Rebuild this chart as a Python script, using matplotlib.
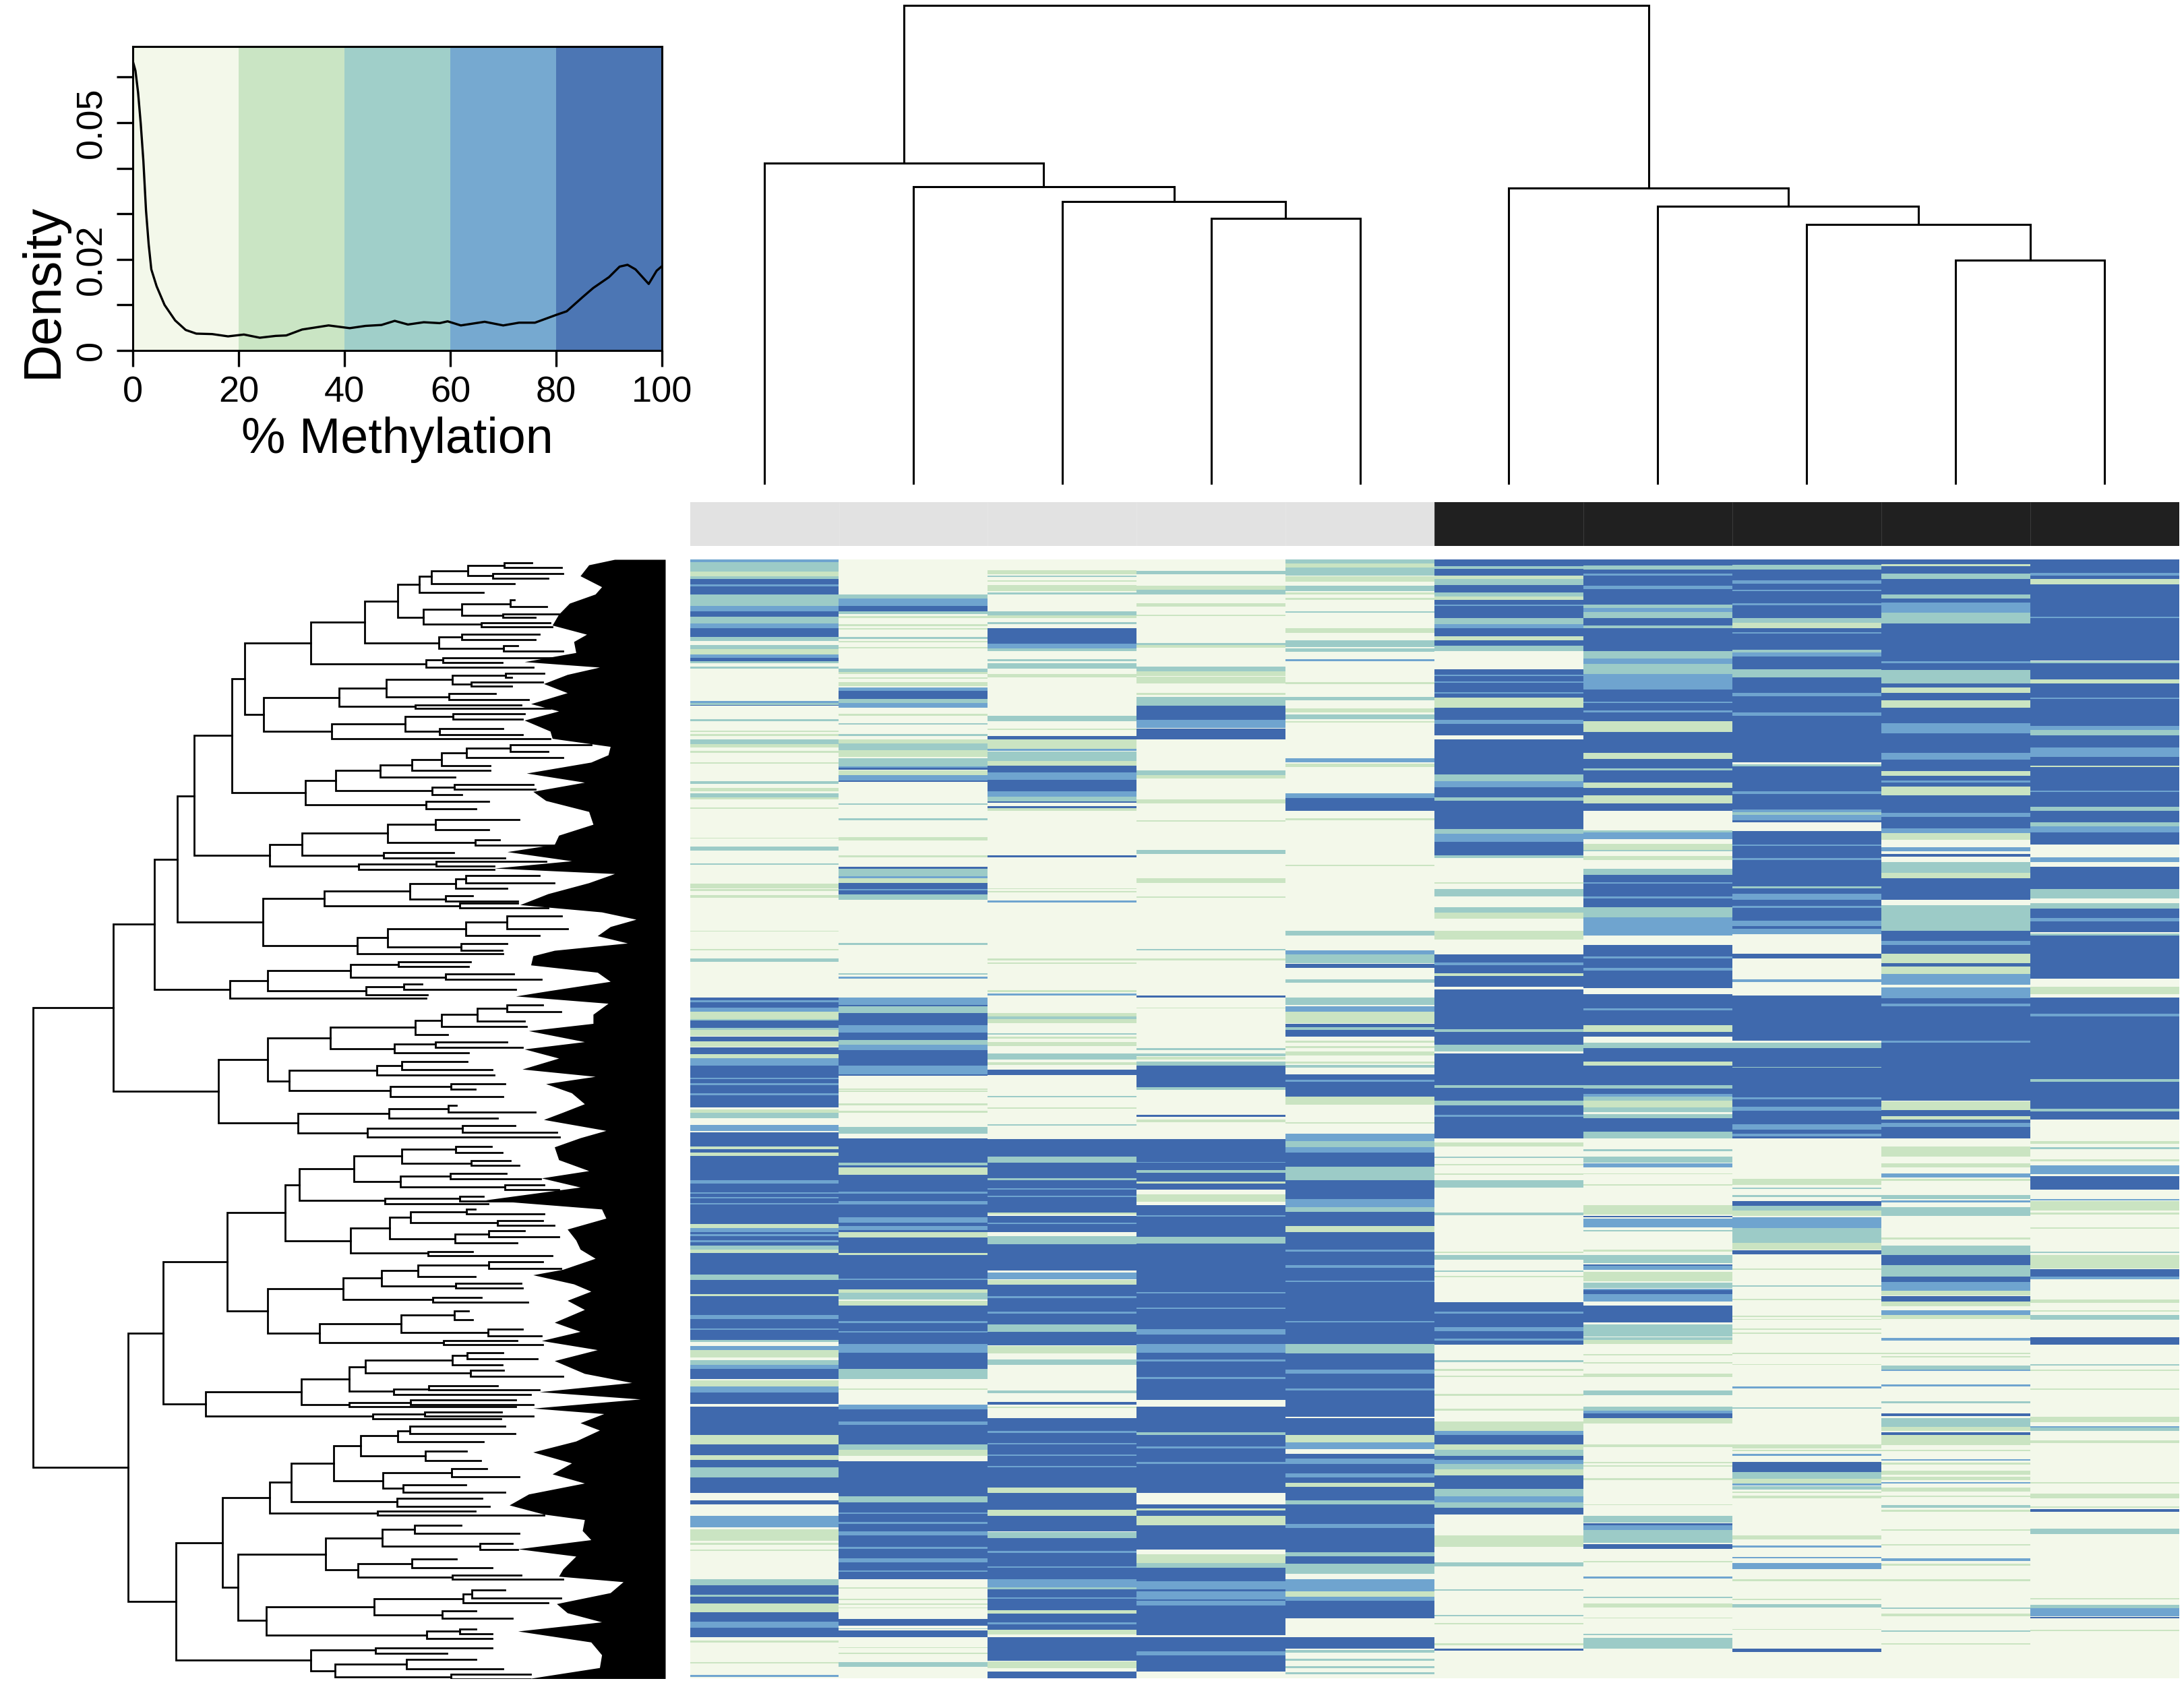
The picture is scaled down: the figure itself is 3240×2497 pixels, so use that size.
"""Methylation heatmap with density key and row / column dendrograms."""
import matplotlib
matplotlib.use("Agg")
import matplotlib.pyplot as plt
from matplotlib.colors import ListedColormap
import numpy as np

plt.rcParams["font.family"] = ["Liberation Sans", "DejaVu Sans"]

WIDTH, HEIGHT = 3241, 2497

# ---------------------------------------------------------------------------
# Density key
# ---------------------------------------------------------------------------
METHYLATION = [0, 0.5, 1, 1.5, 2, 2.5, 3, 3.5, 4.5, 6, 8, 10, 12, 15, 18, 21, 24, 27, 29,
               32, 37, 41, 44, 47, 49.5, 52, 55, 58, 59.5, 62, 66.5, 70, 73, 76, 80, 82,
               85, 87, 90, 92, 93.5, 95, 97.5, 99, 100]
DENSITY = [.0635, .0614, .0566, .0498, .0416, .0307, .0233, .0178, .0141, .0100, .0066,
           .0045, .0037, .0036, .0031, .0035, .0028, .0032, .0033, .0046, .0055, .0049,
           .0054, .0056, .0065, .0057, .0062, .0060, .0064, .0055, .0063, .0055, .0061,
           .0061, .0078, .0086, .0117, .0137, .0161, .0184, .0188, .0178, .0146, .0175, .0185]
BIN_EDGES = [0, 20, 40, 60, 80, 100]
LEVEL_COLORS = ["#F3F8EA", "#CAE4C2", "#9CCBC7", "#6FA4CF", "#3F69AD"]
KEY_COLORS = ["#F3F8EA", "#CAE5C4", "#A0CFC9", "#76A9D0", "#4C76B4"]
X_TICKS = [0, 20, 40, 60, 80, 100]
Y_TICKS = [0, .01, .02, .03, .04, .05, .06]
Y_TICK_LABELS = ["0", "", "0.02", "", "", "0.05", ""]

# ---------------------------------------------------------------------------
# Sample annotation and column dendrogram
# ---------------------------------------------------------------------------
SAMPLE_GROUP = [0, 0, 0, 0, 0, 1, 1, 1, 1, 1]
GROUP_COLORS = ["#E2E2E2", "#202020"]
# (child a, child b, height); ids 0-9 are samples, 10+ the merges in order
COLUMN_LINKS = [(3, 4, 190), (2, 10, 202), (1, 11, 213), (0, 12, 230),
                (8, 9, 160), (7, 14, 186), (6, 15, 199), (5, 16, 212),
                (13, 17, 343)]

# ---------------------------------------------------------------------------
# Heatmap: runs of (first row, last row, level) per sample, over pale level 0
# ---------------------------------------------------------------------------
N_ROWS = 2900
SAMPLE_01 = [
    (0, 8, 3), (8, 33, 2), (33, 46, 1), (46, 53, 2), (53, 66, 4), (66, 71, 3), (71, 93, 4),
    (93, 123, 2), (123, 136, 3), (136, 150, 4), (150, 168, 2), (168, 180, 3), (180, 203, 4),
    (203, 213, 2), (223, 234, 2), (234, 248, 1), (248, 256, 3), (256, 266, 4), (266, 270, 2),
    (280, 284, 2), (368, 374, 3), (374, 378, 2), (378, 381, 4), (416, 420, 2), (446, 449, 1),
    (454, 460, 1), (468, 480, 2), (480, 488, 1), (498, 502, 1), (528, 531, 1), (576, 583, 2),
    (594, 603, 1), (608, 618, 2), (618, 623, 1), (644, 648, 1), (722, 725, 1), (745, 756, 2),
    (789, 793, 2), (842, 853, 1), (856, 860, 1), (871, 878, 1), (963, 966, 1), (1011, 1014, 1),
    (1036, 1044, 2), (1137, 1143, 4), (1143, 1148, 3), (1148, 1163, 4), (1163, 1173, 3),
    (1173, 1193, 1), (1193, 1196, 2), (1196, 1215, 4), (1215, 1220, 2), (1220, 1236, 1),
    (1238, 1250, 4), (1250, 1264, 1), (1266, 1283, 4), (1283, 1293, 1), (1293, 1313, 3),
    (1313, 1422, 4), (1345, 1348, 3), (1358, 1364, 3), (1384, 1389, 3), (1426, 1436, 1),
    (1436, 1449, 2), (1466, 1482, 3), (1486, 1522, 4), (1522, 1529, 1), (1529, 1539, 4),
    (1539, 1547, 1), (1547, 1609, 4), (1609, 1619, 3), (1619, 1724, 4), (1642, 1645, 3),
    (1654, 1657, 3), (1669, 1672, 3), (1724, 1734, 1), (1734, 1744, 3), (1744, 1779, 4),
    (1750, 1755, 3), (1765, 1770, 3), (1779, 1790, 2), (1790, 1799, 1), (1799, 1854, 4),
    (1854, 1869, 2), (1869, 1904, 4), (1904, 1910, 1), (1910, 1959, 4), (1959, 1969, 3),
    (1969, 2024, 4), (1994, 1997, 3), (2024, 2029, 2), (2039, 2049, 3), (2049, 2069, 1),
    (2076, 2089, 2), (2089, 2099, 3), (2099, 2124, 4), (2129, 2144, 1), (2144, 2159, 3),
    (2159, 2189, 4), (2196, 2269, 4), (2269, 2294, 1), (2294, 2322, 4), (2322, 2334, 1),
    (2334, 2354, 4), (2354, 2379, 2), (2379, 2419, 4), (2439, 2449, 4), (2479, 2509, 3),
    (2514, 2544, 1), (2549, 2554, 1), (2566, 2570, 1), (2644, 2659, 2), (2659, 2684, 4),
    (2684, 2689, 2), (2689, 2706, 4), (2706, 2729, 1), (2729, 2754, 4), (2754, 2769, 3),
    (2769, 2794, 4), (2802, 2808, 1), (2858, 2862, 1), (2892, 2896, 3),
]
SAMPLE_02 = [
    (93, 103, 2), (103, 123, 3), (123, 136, 4), (136, 143, 2), (148, 154, 1), (170, 175, 1),
    (180, 184, 1), (203, 207, 2), (213, 217, 1), (228, 232, 1), (285, 294, 2), (294, 298, 1),
    (308, 311, 1), (320, 330, 1), (334, 343, 3), (343, 363, 4), (363, 373, 2), (373, 386, 3),
    (402, 406, 1), (426, 430, 2), (454, 460, 2), (468, 478, 1), (478, 495, 2), (495, 513, 1),
    (516, 538, 2), (538, 541, 3), (541, 546, 4), (548, 560, 1), (560, 575, 3), (575, 578, 4),
    (634, 638, 2), (672, 677, 2), (721, 730, 1), (769, 773, 1), (798, 804, 4), (804, 823, 2),
    (823, 828, 3), (828, 840, 1), (840, 870, 4), (856, 859, 3), (870, 884, 2), (996, 1000, 2),
    (1074, 1078, 2), (1082, 1088, 3), (1137, 1156, 3), (1156, 1160, 4), (1160, 1176, 2),
    (1176, 1208, 4), (1208, 1228, 3), (1228, 1246, 4), (1246, 1258, 2), (1258, 1273, 3),
    (1273, 1313, 4), (1313, 1336, 3), (1336, 1340, 4), (1373, 1376, 1), (1378, 1381, 1),
    (1410, 1416, 1), (1430, 1435, 1), (1472, 1489, 2), (1502, 1564, 4), (1564, 1572, 2),
    (1572, 1576, 4), (1576, 1596, 1), (1596, 1744, 4), (1639, 1644, 3), (1664, 1672, 3),
    (1706, 1719, 3), (1729, 1739, 3), (1744, 1759, 1), (1759, 1799, 4), (1799, 1804, 1),
    (1804, 1892, 4), (1864, 1868, 3), (1892, 1902, 1), (1902, 1919, 2), (1922, 1934, 1),
    (1934, 2034, 4), (1975, 1980, 3), (2000, 2005, 3), (2034, 2056, 3), (2056, 2099, 4),
    (2099, 2124, 2), (2149, 2152, 1), (2192, 2204, 3), (2204, 2234, 4), (2234, 2244, 3),
    (2244, 2294, 4), (2294, 2309, 2), (2309, 2324, 1), (2337, 2429, 4), (2429, 2444, 2),
    (2444, 2644, 4), (2470, 2474, 3), (2495, 2500, 3), (2520, 2530, 3), (2560, 2565, 3),
    (2590, 2600, 3), (2620, 2625, 3), (2664, 2667, 1), (2694, 2697, 1), (2706, 2709, 1),
    (2716, 2719, 1), (2746, 2764, 4), (2770, 2773, 2), (2776, 2794, 4), (2819, 2822, 1),
    (2834, 2837, 1), (2858, 2870, 2),
]
SAMPLE_03 = [
    (30, 40, 1), (44, 48, 2), (56, 60, 1), (68, 83, 1), (87, 92, 2), (136, 146, 2), (146, 153, 1),
    (164, 169, 2), (180, 220, 4), (220, 232, 3), (232, 240, 2), (261, 266, 2), (270, 284, 2),
    (299, 308, 1), (406, 420, 2), (440, 444, 1), (460, 468, 4), (468, 493, 1), (493, 498, 3),
    (500, 523, 2), (523, 536, 1), (536, 553, 4), (553, 573, 3), (573, 603, 4), (603, 616, 3),
    (616, 628, 2), (628, 632, 4), (641, 646, 4), (646, 653, 1), (769, 773, 4), (853, 856, 1),
    (860, 865, 1), (886, 890, 3), (1036, 1040, 1), (1045, 1049, 1), (1118, 1122, 1),
    (1127, 1131, 3), (1176, 1186, 1), (1186, 1193, 2), (1193, 1203, 1), (1229, 1233, 2),
    (1238, 1243, 1), (1251, 1263, 1), (1281, 1298, 2), (1305, 1311, 1), (1324, 1338, 4),
    (1392, 1395, 2), (1422, 1425, 1), (1465, 1469, 2), (1504, 1549, 4), (1549, 1564, 2),
    (1564, 1604, 4), (1604, 1610, 2), (1610, 1694, 4), (1630, 1635, 3), (1650, 1654, 3),
    (1694, 1698, 1), (1702, 1744, 4), (1720, 1724, 3), (1754, 1776, 2), (1776, 1844, 4),
    (1849, 1866, 3), (1869, 1881, 1), (1881, 1984, 4), (1910, 1915, 3), (1950, 1955, 3),
    (1984, 2002, 2), (2002, 2037, 4), (2039, 2059, 1), (2074, 2089, 2), (2154, 2162, 2),
    (2184, 2192, 4), (2196, 2200, 1), (2226, 2406, 4), (2260, 2264, 3), (2290, 2294, 3),
    (2320, 2324, 3), (2350, 2354, 3), (2406, 2419, 1), (2419, 2464, 4), (2464, 2479, 1),
    (2479, 2519, 4), (2522, 2536, 2), (2536, 2644, 4), (2570, 2575, 3), (2610, 2614, 3),
    (2644, 2664, 3), (2664, 2669, 2), (2669, 2724, 4), (2690, 2694, 3), (2724, 2732, 1),
    (2732, 2774, 4), (2755, 2760, 3), (2774, 2786, 1), (2794, 2854, 4), (2856, 2874, 1),
    (2882, 2900, 4),
]
SAMPLE_04 = [
    (32, 40, 2), (70, 80, 1), (80, 93, 2), (116, 124, 1), (145, 149, 1), (218, 224, 2),
    (224, 230, 1), (280, 292, 2), (292, 303, 1), (306, 323, 1), (348, 353, 1), (358, 380, 2),
    (380, 418, 4), (418, 438, 3), (440, 468, 4), (548, 560, 2), (560, 570, 1), (623, 633, 1),
    (677, 681, 1), (755, 764, 2), (827, 840, 1), (875, 879, 1), (1011, 1015, 2), (1036, 1040, 1),
    (1132, 1136, 4), (1162, 1165, 1), (1267, 1273, 2), (1281, 1288, 2), (1290, 1298, 1),
    (1303, 1313, 2), (1313, 1369, 4), (1369, 1376, 2), (1440, 1446, 4), (1452, 1459, 1),
    (1504, 1634, 4), (1562, 1565, 3), (1584, 1590, 2), (1614, 1618, 1), (1646, 1666, 1),
    (1674, 1756, 4), (1700, 1704, 3), (1756, 1774, 2), (1774, 2034, 4), (1899, 1903, 3),
    (1939, 1944, 3), (1996, 2009, 3), (2034, 2056, 3), (2056, 2179, 4), (2075, 2080, 3),
    (2120, 2124, 3), (2196, 2419, 4), (2262, 2269, 2), (2300, 2304, 3), (2340, 2345, 3),
    (2449, 2479, 4), (2460, 2466, 1), (2479, 2504, 1), (2504, 2566, 4), (2579, 2602, 1),
    (2602, 2614, 2), (2614, 2789, 4), (2649, 2712, 3), (2670, 2675, 4), (2695, 2700, 4),
    (2794, 2882, 4), (2830, 2840, 3),
]
SAMPLE_05 = [
    (0, 13, 2), (13, 23, 1), (23, 43, 2), (46, 60, 1), (70, 83, 2), (87, 92, 1), (102, 106, 1),
    (137, 140, 2), (180, 192, 1), (212, 228, 2), (233, 241, 2), (261, 266, 3), (320, 324, 1),
    (358, 366, 2), (388, 398, 1), (403, 415, 2), (420, 424, 1), (517, 528, 3), (530, 540, 1),
    (608, 620, 3), (620, 653, 4), (673, 677, 1), (793, 797, 1), (963, 976, 2), (1015, 1025, 3),
    (1025, 1048, 2), (1049, 1060, 4), (1090, 1098, 2), (1136, 1156, 2), (1160, 1173, 3),
    (1173, 1203, 1), (1205, 1213, 4), (1213, 1220, 2), (1220, 1238, 4), (1248, 1254, 1),
    (1263, 1268, 1), (1276, 1286, 1), (1303, 1308, 1), (1311, 1318, 2), (1335, 1394, 4),
    (1350, 1355, 3), (1394, 1414, 1), (1459, 1463, 1), (1489, 1509, 3), (1509, 1524, 2),
    (1524, 1539, 3), (1539, 1574, 4), (1574, 1609, 2), (1609, 1659, 4), (1659, 1679, 3),
    (1679, 1692, 2), (1692, 1729, 4), (1729, 1744, 1), (1744, 2034, 4), (1790, 1795, 3),
    (1830, 1836, 3), (1870, 1874, 3), (1974, 1978, 3), (2034, 2059, 2), (2059, 2222, 4),
    (2100, 2110, 3), (2150, 2155, 3), (2226, 2269, 4), (2269, 2289, 1), (2289, 2306, 3),
    (2319, 2394, 4), (2330, 2345, 3), (2370, 2380, 3), (2394, 2404, 1), (2404, 2439, 4),
    (2439, 2449, 2), (2449, 2574, 4), (2500, 2510, 3), (2574, 2584, 2), (2584, 2604, 4),
    (2604, 2629, 2), (2644, 2674, 3), (2674, 2689, 1), (2689, 2699, 3), (2699, 2744, 4),
    (2794, 2824, 4), (2826, 2834, 2), (2849, 2854, 2), (2869, 2874, 2), (2884, 2889, 2),
]
SAMPLE_06 = [
    (0, 43, 4), (20, 26, 2), (43, 53, 1), (53, 68, 2), (68, 88, 4), (88, 98, 2), (98, 106, 1),
    (106, 153, 4), (118, 122, 3), (153, 170, 2), (170, 180, 3), (180, 200, 4), (200, 212, 1),
    (212, 226, 4), (226, 240, 2), (286, 360, 4), (300, 304, 3), (318, 322, 3), (345, 350, 3),
    (360, 386, 1), (386, 418, 4), (418, 428, 3), (428, 458, 4), (468, 558, 4), (558, 576, 2),
    (576, 592, 3), (592, 618, 4), (618, 626, 2), (626, 700, 4), (700, 713, 2), (713, 733, 3),
    (733, 768, 4), (768, 776, 2), (838, 842, 1), (856, 874, 2), (903, 916, 2), (916, 933, 1),
    (963, 986, 1), (1025, 1083, 4), (1045, 1052, 3), (1073, 1080, 1), (1083, 1108, 4),
    (1116, 1218, 4), (1218, 1226, 2), (1226, 1258, 4), (1258, 1276, 2), (1281, 1404, 4),
    (1363, 1370, 2), (1404, 1416, 2), (1416, 1502, 4), (1440, 1445, 3), (1512, 1522, 1),
    (1548, 1552, 2), (1568, 1572, 1), (1592, 1596, 1), (1610, 1629, 2), (1694, 1700, 2),
    (1794, 1799, 1), (1804, 1816, 2), (1844, 1848, 2), (1857, 1861, 1), (1926, 2036, 4),
    (1950, 1956, 3), (1990, 2000, 3), (2020, 2026, 3), (2076, 2082, 2), (2099, 2104, 1),
    (2116, 2119, 1), (2164, 2168, 1), (2202, 2206, 1), (2234, 2259, 1), (2259, 2269, 3),
    (2269, 2294, 4), (2294, 2309, 1), (2309, 2324, 2), (2324, 2334, 4), (2334, 2344, 3),
    (2344, 2359, 2), (2359, 2374, 1), (2374, 2409, 4), (2409, 2429, 2), (2429, 2444, 3),
    (2444, 2459, 2), (2459, 2476, 4), (2529, 2559, 1), (2600, 2610, 2), (2669, 2673, 2),
    (2736, 2740, 2), (2756, 2760, 1), (2810, 2814, 1), (2824, 2828, 4),
]
SAMPLE_07 = [
    (0, 18, 4), (18, 28, 2), (28, 38, 4), (38, 43, 3), (43, 70, 4), (70, 78, 3), (78, 118, 4),
    (118, 128, 2), (128, 138, 3), (138, 153, 2), (153, 173, 4), (173, 180, 2), (180, 240, 4),
    (240, 258, 2), (258, 273, 3), (273, 298, 2), (298, 338, 3), (338, 420, 4), (370, 374, 3),
    (392, 398, 3), (420, 448, 1), (448, 503, 4), (503, 518, 1), (518, 543, 4), (543, 548, 2),
    (548, 580, 4), (580, 594, 1), (594, 613, 4), (613, 633, 1), (633, 653, 4), (703, 708, 2),
    (708, 726, 3), (738, 754, 1), (754, 758, 2), (770, 780, 1), (803, 818, 2), (818, 903, 4),
    (838, 842, 3), (875, 880, 3), (903, 928, 2), (928, 976, 3), (1000, 1113, 4), (1030, 1036, 3),
    (1060, 1066, 3), (1128, 1208, 4), (1165, 1170, 3), (1208, 1226, 1), (1226, 1238, 4),
    (1253, 1268, 2), (1268, 1386, 4), (1303, 1313, 1), (1363, 1373, 2), (1386, 1394, 3),
    (1394, 1404, 2), (1404, 1422, 1), (1422, 1434, 2), (1439, 1449, 2), (1449, 1484, 4),
    (1484, 1502, 2), (1529, 1534, 2), (1549, 1564, 2), (1566, 1576, 3), (1592, 1594, 1),
    (1620, 1623, 1), (1674, 1699, 1), (1702, 1706, 4), (1709, 1732, 3), (1739, 1743, 2),
    (1790, 1794, 1), (1804, 1824, 2), (1828, 1832, 4), (1832, 1842, 3), (1847, 1871, 1),
    (1876, 1889, 2), (1891, 1924, 3), (1895, 1905, 4), (1934, 1979, 4), (1984, 2014, 2),
    (2016, 2024, 2), (2024, 2034, 1), (2060, 2064, 1), (2082, 2085, 1), (2111, 2119, 1),
    (2154, 2166, 2), (2197, 2206, 2), (2206, 2214, 3), (2214, 2226, 4), (2226, 2240, 1),
    (2294, 2302, 1), (2340, 2343, 1), (2348, 2351, 1), (2382, 2386, 1), (2449, 2452, 1),
    (2479, 2496, 2), (2499, 2504, 4), (2504, 2516, 3), (2516, 2549, 2), (2552, 2564, 4),
    (2596, 2599, 1), (2636, 2642, 3), (2689, 2692, 2), (2706, 2716, 1), (2742, 2745, 1),
    (2784, 2789, 2), (2796, 2824, 2),
]
SAMPLE_08 = [
    (0, 16, 4), (16, 28, 2), (28, 56, 4), (56, 64, 3), (64, 153, 4), (80, 84, 3), (115, 120, 3),
    (153, 166, 2), (166, 180, 1), (180, 236, 4), (190, 194, 3), (236, 243, 2), (243, 253, 3),
    (253, 286, 4), (286, 308, 2), (308, 348, 4), (348, 356, 3), (356, 398, 4), (398, 406, 3),
    (406, 528, 4), (532, 538, 2), (538, 603, 4), (603, 610, 3), (610, 656, 4), (650, 656, 3),
    (656, 663, 2), (663, 678, 3), (678, 683, 4), (705, 938, 4), (740, 744, 3), (775, 780, 3),
    (848, 853, 2), (868, 883, 3), (900, 905, 3), (938, 973, 3), (952, 958, 4), (1023, 1036, 4),
    (1090, 1096, 3), (1131, 1248, 4), (1253, 1268, 2), (1268, 1502, 4), (1316, 1319, 2),
    (1395, 1400, 3), (1420, 1430, 3), (1465, 1478, 3), (1490, 1497, 3), (1606, 1622, 1),
    (1629, 1633, 2), (1649, 1653, 2), (1664, 1676, 4), (1676, 1689, 2), (1689, 1702, 1),
    (1706, 1734, 3), (1734, 1772, 2), (1772, 1789, 1), (1791, 1802, 4), (1839, 1842, 1),
    (1882, 1886, 2), (1917, 1920, 1), (1961, 1964, 1), (1969, 1972, 1), (1994, 1998, 1),
    (2004, 2007, 1), (2056, 2060, 1), (2086, 2089, 1), (2144, 2149, 3), (2199, 2202, 2),
    (2294, 2304, 1), (2309, 2312, 1), (2319, 2324, 3), (2339, 2366, 4), (2366, 2384, 2),
    (2384, 2396, 1), (2396, 2400, 3), (2402, 2412, 2), (2416, 2420, 1), (2426, 2434, 1),
    (2529, 2541, 1), (2556, 2562, 3), (2586, 2590, 3), (2602, 2618, 3), (2644, 2648, 1),
    (2694, 2697, 1), (2708, 2716, 2), (2772, 2775, 1), (2824, 2832, 4),
]
SAMPLE_09 = [
    (0, 14, 4), (14, 20, 1), (20, 38, 4), (38, 53, 2), (53, 93, 4), (93, 103, 2), (103, 113, 4),
    (113, 140, 3), (140, 168, 2), (168, 288, 4), (265, 270, 3), (288, 323, 2), (323, 333, 4),
    (333, 348, 1), (348, 366, 4), (366, 386, 1), (386, 426, 4), (426, 453, 3), (453, 503, 4),
    (503, 520, 3), (520, 550, 4), (550, 563, 1), (563, 590, 4), (575, 580, 3), (590, 613, 1),
    (613, 658, 4), (658, 668, 3), (668, 698, 4), (698, 711, 3), (711, 728, 1), (748, 758, 3),
    (765, 772, 4), (786, 813, 2), (813, 828, 1), (828, 883, 4), (898, 963, 2), (963, 1023, 4),
    (990, 1000, 3), (1023, 1048, 1), (1048, 1056, 4), (1056, 1076, 1), (1076, 1103, 3),
    (1110, 1138, 3), (1138, 1404, 4), (1153, 1160, 3), (1248, 1253, 3), (1406, 1429, 1),
    (1429, 1444, 4), (1444, 1452, 1), (1452, 1502, 4), (1462, 1472, 3), (1522, 1549, 1),
    (1566, 1576, 1), (1592, 1602, 3), (1606, 1612, 1), (1649, 1659, 2), (1662, 1668, 3),
    (1679, 1702, 2), (1759, 1764, 1), (1779, 1804, 2), (1804, 1829, 4), (1829, 1859, 2),
    (1859, 1874, 4), (1874, 1896, 3), (1896, 1909, 1), (1910, 1924, 4), (1924, 1936, 1),
    (1947, 1959, 3), (1959, 1969, 1), (2018, 2026, 3), (2056, 2060, 1), (2066, 2069, 1),
    (2090, 2100, 2), (2100, 2104, 3), (2139, 2144, 3), (2183, 2187, 2), (2214, 2221, 4),
    (2226, 2249, 2), (2249, 2259, 1), (2262, 2270, 4), (2270, 2296, 1), (2309, 2312, 1),
    (2332, 2336, 3), (2342, 2346, 1), (2362, 2372, 1), (2378, 2386, 1), (2392, 2396, 3),
    (2406, 2416, 1), (2426, 2430, 1), (2451, 2458, 2), (2464, 2468, 1), (2514, 2517, 1),
    (2552, 2556, 1), (2590, 2596, 3), (2604, 2609, 1), (2644, 2648, 1), (2717, 2721, 2),
    (2732, 2740, 1), (2776, 2779, 2), (2810, 2813, 1),
]
SAMPLE_10 = [
    (0, 36, 4), (36, 44, 3), (44, 53, 4), (53, 66, 1), (66, 263, 4), (150, 153, 3), (266, 271, 2),
    (271, 313, 4), (313, 323, 1), (323, 433, 4), (360, 364, 3), (433, 443, 3), (443, 458, 2),
    (458, 488, 4), (488, 513, 3), (513, 536, 4), (536, 540, 1), (540, 643, 4), (600, 604, 3),
    (643, 653, 2), (653, 683, 4), (683, 693, 2), (693, 708, 3), (708, 740, 4), (773, 786, 3),
    (798, 856, 4), (856, 880, 2), (893, 906, 2), (906, 968, 4), (930, 940, 3), (970, 976, 2),
    (976, 1088, 4), (1108, 1128, 1), (1136, 1452, 4), (1178, 1186, 3), (1348, 1354, 2),
    (1424, 1432, 2), (1509, 1516, 1), (1524, 1530, 2), (1556, 1560, 1), (1572, 1594, 3),
    (1600, 1634, 4), (1659, 1662, 3), (1664, 1689, 1), (1694, 1698, 1), (1732, 1736, 1),
    (1794, 1798, 2), (1804, 1839, 1), (1841, 1859, 4), (1859, 1866, 3), (1919, 1927, 1),
    (1946, 1950, 1), (1959, 1972, 2), (2017, 2036, 4), (2086, 2090, 2), (2100, 2104, 1),
    (2149, 2152, 1), (2222, 2236, 1), (2247, 2259, 2), (2247, 2250, 3), (2284, 2290, 1),
    (2392, 2396, 1), (2422, 2434, 1), (2454, 2459, 1), (2462, 2469, 4), (2512, 2526, 2),
    (2692, 2696, 1), (2709, 2719, 2), (2719, 2739, 3), (2741, 2744, 4), (2775, 2778, 1),
]
SAMPLES = [SAMPLE_01, SAMPLE_02, SAMPLE_03, SAMPLE_04, SAMPLE_05,
           SAMPLE_06, SAMPLE_07, SAMPLE_08, SAMPLE_09, SAMPLE_10]

# ---------------------------------------------------------------------------
# Row dendrogram: (merge height, row a, row b, height of child a, height of child b)
# ---------------------------------------------------------------------------
TREE_ROWS = 3063
TREE_WIDTH = 1548
ROW_TREE = [
    (77, 1226, 2484, 264, 298), (264, 998, 1455, 359, 508), (359, 820, 1177, 413, 535),
    (413, 647, 992, 452, 612), (452, 482, 810, 540, 627), (540, 326, 639, 570, 710),
    (570, 228, 425, 723, 614), (723, 171, 286, 849, 991), (849, 114, 228, 926, 1021),
    (926, 69, 158, 976, 985), (976, 47, 90, 1004, 1124), (1004, 32, 66, 1088, 1197),
    (1088, 17, 45, 1173, 1146), (1173, 10, 22, 1237, 1306), (1146, 38, 51, 1310, 1275),
    (985, 137, 178, 1075, 1120), (1075, 122, 153, 1187, 1170), (1187, 111, 130, 1197, 1272),
    (1170, 149, 159, 1300, 1245), (1120, 173, 185, 1280, 1285), (1021, 212, 243, 1075, 1172),
    (1075, 205, 220, 1255, 1245), (1172, 237, 250, 1205, 1310), (991, 275, 295, 1030, 1240),
    (1030, 269, 282, 1335, 1168), (614, 378, 471, 789, 772), (789, 353, 403, 899, 966),
    (899, 329, 376, 1053, 1045), (1053, 317, 341, 1176, 1097), (1176, 311, 323, 1265, 1190),
    (1097, 336, 347, 1262, 1190), (1045, 368, 383, 1153, 1230), (966, 398, 408, 1212, 1280),
    (772, 451, 491, 943, 1280), (943, 430, 471, 1054, 1022), (1054, 423, 437, 1220, 1215),
    (1022, 463, 480, 1170, 1215), (710, 605, 672, 781, 991), (781, 577, 633, 885, 1005),
    (885, 562, 596, 959, 1058), (959, 548, 577, 1027, 1140), (1027, 530, 565, 1086, 1140),
    (1086, 517, 542, 1187, 1310), (1187, 507, 525, 1375, 1275), (1005, 623, 643, 1057, 1075),
    (1057, 617, 629, 1240, 1245), (991, 663, 682, 1137, 1107), (627, 780, 840, 702, 835),
    (702, 749, 810, 902, 892), (902, 725, 775, 1013, 1105), (1013, 712, 740, 1208, 1137),
    (1105, 768, 783, 1162, 1290), (892, 803, 817, 1056, 1175), (835, 833, 848, 1015, 1150),
    (1015, 827, 840, 1270, 1150), (612, 928, 1057, 754, 832), (754, 907, 948, 954, 1070),
    (954, 887, 929, 1061, 1036), (1061, 875, 900, 1083, 1180), (1083, 865, 885, 1255, 1290),
    (1036, 920, 935, 1100, 1205), (1070, 940, 953, 1205, 1275), (832, 1035, 1080, 902, 1170),
    (902, 1011, 1060, 1084, 1072), (1084, 993, 1030, 1179, 1255), (1179, 975, 1011, 1306, 1320),
    (1072, 1052, 1070, 1180, 1168), (535, 1153, 1201, 622, 992), (622, 1126, 1181, 816, 851),
    (816, 1108, 1143, 927, 1037), (927, 1102, 1115, 1095, 1090), (1037, 1135, 1150, 1195, 1260),
    (851, 1169, 1192, 940, 995), (940, 1163, 1177, 982, 1200), (508, 1368, 1543, 622, 693),
    (622, 1310, 1427, 768, 673), (768, 1281, 1339, 966, 918), (966, 1262, 1301, 1027, 1042),
    (1027, 1246, 1279, 1110, 1225), (1110, 1229, 1263, 1180, 1220), (1180, 1220, 1237, 1262, 1305),
    (918, 1327, 1350, 1013, 1090), (1013, 1320, 1335, 1180, 1215), (673, 1398, 1454, 877, 908),
    (877, 1385, 1412, 935, 1150), (935, 1375, 1397, 1087, 1145), (908, 1442, 1470, 1050, 1170),
    (1050, 1435, 1450, 1175, 1105), (693, 1517, 1569, 905, 855), (905, 1503, 1530, 1043, 1158),
    (1043, 1495, 1512, 1062, 1245), (855, 1557, 1581, 1076, 1302), (1076, 1549, 1568, 1198, 1295),
    (298, 2117, 2851, 379, 409), (379, 1922, 2312, 529, 478), (529, 1788, 2057, 663, 623),
    (663, 1711, 1865, 697, 815), (697, 1668, 1755, 824, 896), (824, 1633, 1703, 935, 932),
    (935, 1614, 1652, 1060, 1096), (1060, 1607, 1623, 1143, 1168), (1096, 1645, 1659, 1187, 1207),
    (932, 1687, 1718, 1048, 1175), (1048, 1681, 1695, 1178, 1258), (1175, 1711, 1725, 1265, 1300),
    (896, 1749, 1763, 1070, 1135), (1070, 1743, 1756, 1125, 1195), (815, 1829, 1899, 906, 996),
    (906, 1801, 1859, 955, 1058), (955, 1785, 1816, 1085, 1157), (1085, 1778, 1792, 1105, 1265),
    (1157, 1809, 1823, 1262, 1290), (1058, 1847, 1870, 1137, 1203), (1137, 1838, 1853, 1220, 1300),
    (996, 1895, 1905, 1100, 1285), (623, 1996, 2118, 798, 744), (798, 1967, 2026, 887, 1007),
    (887, 1946, 1988, 973, 1060), (973, 1932, 1963, 1137, 1106), (1137, 1923, 1941, 1262, 1305),
    (1060, 1981, 1994, 1212, 1215), (1007, 2019, 2033, 1120, 1228), (744, 2091, 2143, 933, 1032),
    (933, 2068, 2116, 1057, 1135), (1057, 2056, 2081, 1090, 1100), (1135, 2107, 2125, 1216, 1260),
    (1032, 2137, 2149, 1203, 1262), (478, 2278, 2345, 701, 868), (701, 2243, 2314, 812, 813),
    (812, 2209, 2276, 850, 916), (850, 2192, 2227, 1052, 1094), (1052, 2178, 2205, 1087, 1168),
    (1087, 2172, 2188, 1170, 1250), (1094, 2220, 2235, 1172, 1310), (916, 2270, 2285, 997, 1235),
    (997, 2261, 2273, 1158, 1255), (813, 2307, 2319, 955, 1200), (955, 2301, 2313, 1200, 1240),
    (868, 2339, 2351, 988, 1165), (988, 2333, 2345, 1167, 1240), (409, 2691, 3013, 518, 723),
    (518, 2568, 2813, 628, 554), (628, 2526, 2610, 678, 879), (678, 2474, 2579, 776, 924),
    (776, 2426, 2521, 839, 891), (839, 2398, 2454, 925, 990), (925, 2385, 2415, 954, 1124),
    (954, 2373, 2393, 1175, 1198), (990, 2441, 2466, 1085, 1118), (891, 2500, 2542, 1051, 938),
    (1051, 2488, 2511, 1133, 1207), (938, 2533, 2553, 1083, 1175), (924, 2569, 2591, 1122, 1138),
    (879, 2605, 2616, 1105, 1265), (554, 2723, 2904, 758, 619), (758, 2678, 2766, 889, 833),
    (889, 2654, 2701, 964, 1116), (964, 2643, 2666, 1072, 1207), (1116, 2694, 2709, 1192, 1205),
    (833, 2748, 2785, 959, 1052), (959, 2736, 2760, 1062, 1145), (1052, 2779, 2791, 1212, 1310),
    (619, 2866, 2944, 870, 993), (870, 2844, 2888, 1078, 1029), (1078, 2831, 2856, 1098, 1275),
    (1098, 2821, 2843, 1175, 1305), (1029, 2878, 2898, 1108, 1192), (993, 2933, 2953, 1070, 1145),
    (1070, 2927, 2941, 1108, 1145), (723, 2985, 3041, 874, 780), (874, 2979, 2993, 1145, 1040),
    (780, 3023, 3058, 945, 1050), (945, 3010, 3037, 1107, 1170), (1050, 3051, 3063, 1235, 1232),
]
# left edge of the solid block of leaves
MASS_ROWS = [0, 15, 45, 75, 95, 120, 150, 180, 205, 225, 255, 280, 295, 315, 340, 365, 395, 415, 440,
             470, 490, 512, 535, 555, 585, 610, 635, 660, 690, 725, 755, 780, 800, 825, 845, 860,
             885, 915, 945, 965, 985, 1005, 1030, 1050, 1070, 1085, 1110, 1130, 1155, 1180, 1195,
             1215, 1245, 1270, 1290, 1320, 1340, 1365, 1395, 1415, 1435, 1460, 1490, 1513,
             1533, 1563, 1583, 1608, 1643, 1673, 1693, 1718, 1753, 1778, 1803, 1833, 1863, 1888,
             1913, 1943, 1958, 1983, 2003, 2028, 2053, 2088, 2113, 2138, 2163, 2193, 2228, 2253,
             2278, 2298, 2323, 2338, 2363, 2383, 2413, 2443, 2473, 2503, 2528, 2558, 2588, 2613,
             2628, 2658, 2683, 2708, 2728, 2763, 2783, 2798, 2828, 2858, 2883, 2908, 2933, 2963,
             2998, 3033, 3063]
MASS_LEFT = [1430, 1370, 1350, 1400, 1385, 1325, 1300, 1285, 1365, 1335, 1340, 1220, 1395, 1320, 1265,
             1320, 1235, 1300, 1220, 1280, 1285, 1420, 1415, 1375, 1225, 1360, 1240, 1270, 1370, 1380,
             1300, 1290, 1180, 1330, 1150, 1430, 1370, 1275, 1210, 1400, 1480, 1420, 1390, 1460, 1290,
             1240, 1235, 1390, 1420, 1280, 1200, 1415, 1380, 1380, 1230, 1360, 1220, 1300, 1215, 1385,
             1270, 1330, 1360, 1310, 1265, 1410, 1350, 1290, 1300, 1370, 1260, 1350, 1130, 1400, 1410,
             1320, 1340, 1350, 1385, 1310, 1240, 1335, 1375, 1320, 1360, 1290, 1350, 1260, 1390, 1290,
             1360, 1470, 1255, 1490, 1240, 1405, 1350, 1395, 1340, 1240, 1330, 1285, 1360, 1230, 1185,
             1265, 1360, 1355, 1375, 1205, 1340, 1310, 1300, 1450, 1420, 1295, 1320, 1400, 1205, 1375,
             1400, 1395, 1230]


def px_axes(fig, left, top, right, bottom):
    """Axes placed by pixel box, measured from the top left of the picture."""
    return fig.add_axes([left / WIDTH, 1 - bottom / HEIGHT,
                         (right - left) / WIDTH, (bottom - top) / HEIGHT])


def draw_density(fig):
    ax = px_axes(fig, 197, 69, 982, 520)
    for i, color in enumerate(KEY_COLORS):
        ax.axvspan(BIN_EDGES[i], BIN_EDGES[i + 1], color=color, lw=0)
    ax.plot(METHYLATION, DENSITY, color="black", lw=2.4, solid_joinstyle="round")
    ax.set_xlim(0, 100)
    ax.set_ylim(0, 0.0667)
    ax.set_xticks(X_TICKS)
    ax.set_yticks(Y_TICKS)
    ax.set_yticklabels(Y_TICK_LABELS, rotation=90, va="center")
    ax.tick_params(axis="both", length=17, width=2.4, labelsize=39)
    ax.tick_params(axis="x", pad=10)
    ax.tick_params(axis="y", pad=9)
    for spine in ax.spines.values():
        spine.set_linewidth(2.2)
    fig.text(589 / WIDTH, 1 - 672 / HEIGHT, "% Methylation", fontsize=53,
             ha="center", va="baseline")
    fig.text(64 / WIDTH, 1 - 302 / HEIGHT, "Density", fontsize=56, rotation=90,
             ha="right", va="center", rotation_mode="anchor")


def draw_column_tree(fig):
    ax = px_axes(fig, 1023.7, 8, 3232.4, 717)
    pos = {i: (i + 0.5, 0) for i in range(len(SAMPLE_GROUP))}
    for k, (a, b, height) in enumerate(COLUMN_LINKS):
        xa, ya = pos[a]
        xb, yb = pos[b]
        ax.plot([xa, xa, xb, xb], [ya, height, height, yb], color="black", lw=2.2,
                solid_joinstyle="miter", clip_on=False)
        pos[len(SAMPLE_GROUP) + k] = ((xa + xb) / 2, height)
    ax.set_xlim(0, len(SAMPLE_GROUP))
    ax.set_ylim(0, 343)
    ax.axis("off")


def draw_annotation(fig):
    ax = px_axes(fig, 1023.7, 745, 3232.4, 810)
    ax.imshow([SAMPLE_GROUP], cmap=ListedColormap(GROUP_COLORS), aspect="auto",
              interpolation="nearest", extent=(0, 10, 0, 1))
    ax.vlines(range(1, 10), 0, 1, color="white", lw=0.7, alpha=0.12)
    ax.axis("off")


def draw_heatmap(fig):
    ax = px_axes(fig, 1023.7, 830, 3232.4, 2490.5)
    matrix = np.zeros((N_ROWS, len(SAMPLES)), dtype=int)
    for col, runs in enumerate(SAMPLES):
        for first, last, level in runs:
            matrix[first:last, col] = level
    ax.imshow(matrix, cmap=ListedColormap(LEVEL_COLORS), vmin=0, vmax=4, aspect="auto",
              interpolation="nearest", extent=(0, 10, N_ROWS, 0))
    ax.axis("off")


def draw_row_tree(fig):
    ax = px_axes(fig, 0, 830, 987, 2490.5)
    ax.fill_betweenx(MASS_ROWS, MASS_LEFT, TREE_WIDTH, color="black", lw=0)
    for height, row_a, row_b, child_a, child_b in ROW_TREE:
        ax.plot([child_a, height, height, child_b], [row_a, row_a, row_b, row_b],
                color="black", lw=2.0, solid_joinstyle="miter")
    ax.set_xlim(0, TREE_WIDTH)
    ax.set_ylim(TREE_ROWS, 0)
    ax.axis("off")


def main() -> None:
    fig = plt.figure(figsize=(WIDTH / 100, HEIGHT / 100), dpi=100, facecolor="white")
    draw_density(fig)
    draw_column_tree(fig)
    draw_annotation(fig)
    draw_heatmap(fig)
    draw_row_tree(fig)
    fig.savefig("out.png", dpi=100)
    plt.close(fig)


if __name__ == "__main__":
    main()
